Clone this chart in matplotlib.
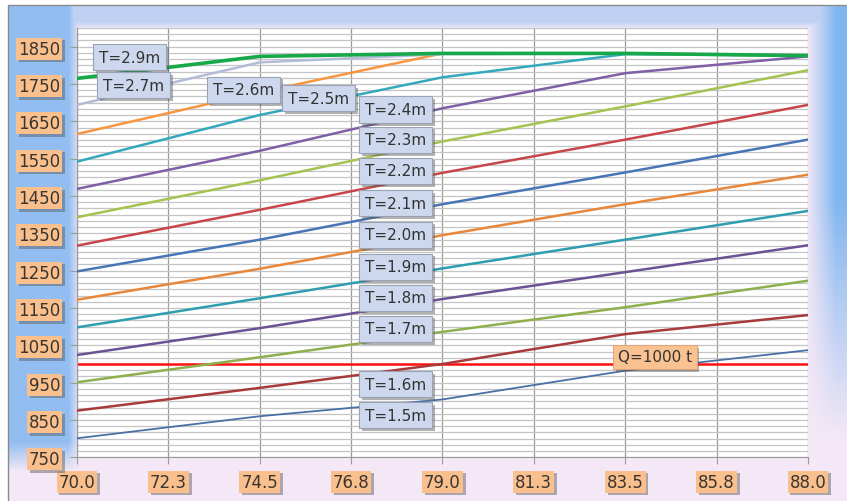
import numpy as np
import matplotlib
matplotlib.use("Agg")
import matplotlib.pyplot as plt
import matplotlib.patheffects as pe
from matplotlib.ticker import MultipleLocator

# draft (m) curves, capacity vs x
x_vals = [70.0, 74.5, 79.0, 83.5, 88.0]
t15 = [801, 860, 905, 982, 1037]
t16 = [875, 936, 1000, 1080, 1131]
t17 = [951, 1018, 1086, 1152, 1223]
t18 = [1024, 1096, 1174, 1246, 1318]
t19 = [1098, 1176, 1256, 1333, 1410]
t20 = [1172, 1255, 1345, 1428, 1507]
t21 = [1248, 1333, 1428, 1513, 1601]
t22 = [1317, 1413, 1512, 1601, 1694]
t23 = [1393, 1492, 1596, 1690, 1787]
t24 = [1469, 1571, 1685, 1779, 1824]
t25 = [1542, 1667, 1768, 1830, 1826]
t26 = [1616, 1728, 1832, 1832, 1826]
t27 = [1694, 1808, 1830, 1831, 1826]
t29 = [1765, 1824, 1832, 1832, 1826]
q_level = 1000

x_ticks = [70.0, 72.25, 74.5, 76.75, 79.0, 81.25, 83.5, 85.75, 88.0]
x_tick_labels = ["70.0", "72.3", "74.5", "76.8", "79.0", "81.3", "83.5", "85.8", "88.0"]
y_ticks = list(range(750, 1851, 100))

series = [
    (t15, "#4a6fa5", 1.3),
    (t16, "#a83a3c", 1.8),
    (t17, "#8db04c", 1.8),
    (t18, "#6c5294", 1.8),
    (t19, "#2f9db0", 1.8),
    (t20, "#e8873a", 1.8),
    (t21, "#4775b5", 1.8),
    (t22, "#c7464a", 1.8),
    (t23, "#a4c350", 1.8),
    (t24, "#7f5fa6", 1.8),
    (t25, "#34a9bd", 1.8),
    (t26, "#f7963f", 1.8),
    (t27, "#b2bbd8", 1.8),
    (t29, "#17a84a", 2.6),
]

labels = ["T=2.9m", "T=2.7m", "T=2.6m", "T=2.5m", "T=2.4m", "T=2.3m", "T=2.2m",
          "T=2.1m", "T=2.0m", "T=1.9m", "T=1.8m", "T=1.7m", "T=1.6m", "T=1.5m"]
label_pos = [(71.3, 1822), (71.4, 1747), (74.1, 1734), (75.95, 1712),
             (77.85, 1681), (77.85, 1600), (77.85, 1517), (77.85, 1431),
             (77.85, 1346), (77.85, 1260), (77.85, 1177), (77.85, 1094),
             (77.85, 946), (77.85, 863)]

W, H = 847, 502
fig = plt.figure(figsize=(W / 100, H / 100), dpi=100)

# background gradient (pixel grid, row 0 = top)
yy, xx = np.mgrid[0:H, 0:W]
pink = np.array([244, 232, 246]) / 255
blue = np.array([128, 182, 240]) / 255
wl = np.clip((80 - xx) / 12, 0, 1) * np.clip((472 - yy) / 30, 0, 1) * 0.85
wr = np.clip((xx - 806) / 30, 0, 1) * np.clip((440 - yy) / 240, 0, 1)
wt = np.clip((30 - yy) / 8, 0, 1) * 0.45
w = np.maximum(np.maximum(wl, wr), wt)[..., None]
img = pink * (1 - w) + blue * w
img[(xx < 8) | (yy < 6)] = 1.0
fig.figimage(img, xo=0, yo=0, origin="upper", zorder=-2)

bg = fig.add_axes([0, 0, 1, 1], zorder=-1)
bg.patch.set_alpha(0)
bg.plot([8, 8, 845], [501, 6, 6], color="#8a8a8a", lw=1)
bg.set_xlim(0, W)
bg.set_ylim(H, 0)
bg.axis("off")

ax = fig.add_axes([77 / W, 1 - 458.3 / H, 731 / W, 429.3 / H])
ax.set_facecolor("white")
ax.set_xlim(70, 88)
ax.set_ylim(750, 1900)

ax.yaxis.set_minor_locator(MultipleLocator(100 / 6))
ax.grid(True, which="both", axis="y", color="#c4c4c4", lw=0.9)
ax.set_xticks(x_ticks)
ax.grid(True, which="major", axis="x", color="#9a9a9a", lw=0.9)
ax.set_axisbelow(True)

for s in ["top", "right"]:
    ax.spines[s].set_visible(False)
for s in ["left", "bottom"]:
    ax.spines[s].set_color("#9a9a9a")

ax.set_yticks(y_ticks)
ax.tick_params(axis="y", which="minor", length=0)
ax.tick_params(axis="both", which="major", color="#9a9a9a", length=5)
ax.set_xticklabels(x_tick_labels)
ax.set_yticklabels([str(v) for v in y_ticks])

shadow = [pe.withSimplePatchShadow(offset=(2, -2), shadow_rgbFace="#555555", alpha=0.45)]
for lab in ax.get_xticklabels() + ax.get_yticklabels():
    lab.set_fontsize(12)
    lab.set_color("#3a3530")
    lab.set_bbox(dict(boxstyle="square,pad=0.12", fc="#f9bf8c", ec="none"))
    lab.get_bbox_patch().set_path_effects(shadow)
ax.tick_params(axis="y", pad=7)
ax.tick_params(axis="x", pad=6)

ax.axhline(q_level, color="#ff1010", lw=1.8, zorder=2)
for vals, col, lw in series:
    ax.plot(x_vals, vals, color=col, lw=lw, zorder=3)

for txt, (px, py) in zip(labels, label_pos):
    t = ax.text(px, py, txt, ha="center", va="center", fontsize=11, color="#333333",
                zorder=5, bbox=dict(boxstyle="square,pad=0.38", fc="#cdd8ee", ec="#9aa3b5", lw=0.8))
    t.get_bbox_patch().set_path_effects(shadow)

t = ax.text(84.23, 1019, "Q=1000 t", ha="center", va="center", fontsize=11, color="#333333",
            zorder=5, bbox=dict(boxstyle="square,pad=0.3", fc="#fac290", ec="#e0a070", lw=0.6))
t.get_bbox_patch().set_path_effects(shadow)

fig.savefig("out.png", dpi=100)
